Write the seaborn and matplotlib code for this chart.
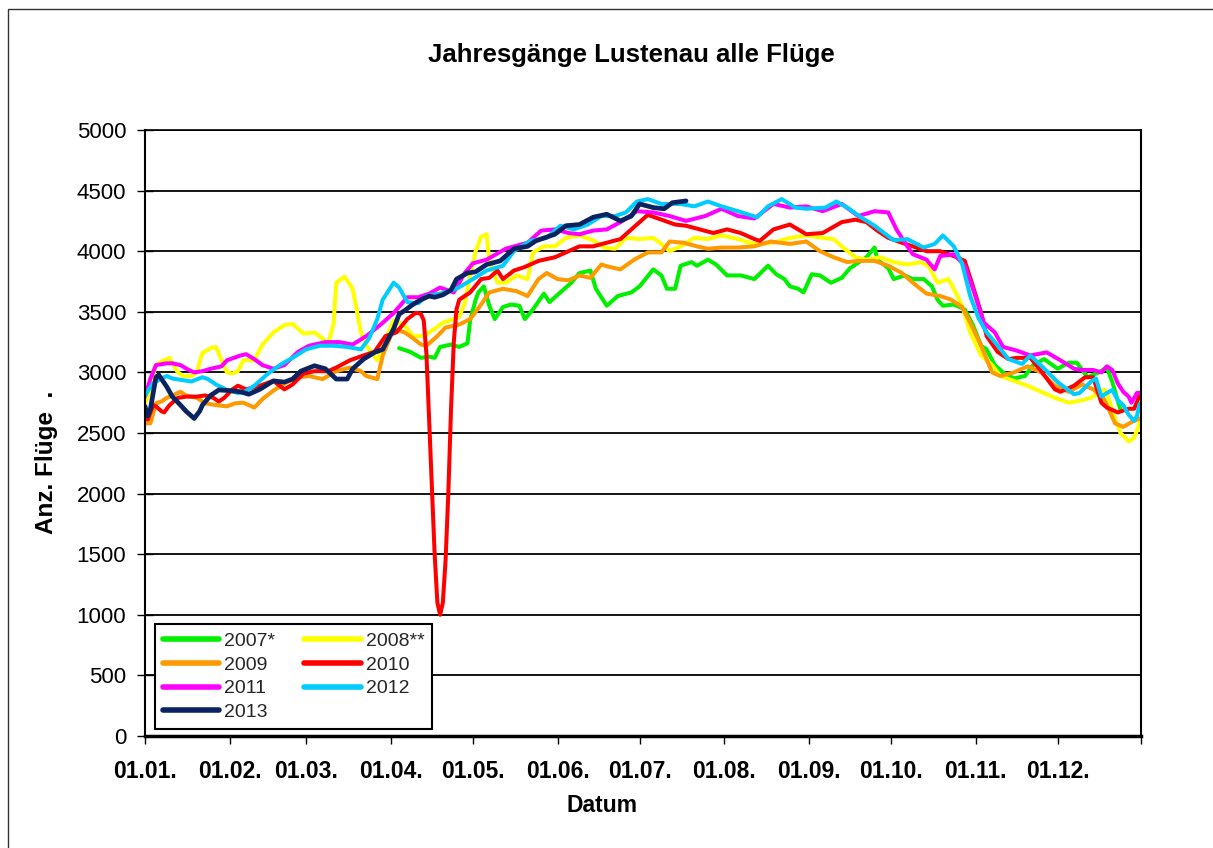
import matplotlib
matplotlib.use("Agg")
import matplotlib.pyplot as plt
import seaborn as sns
import pandas as pd
from matplotlib.patches import Rectangle

# ---------------- data ----------------
title = "Jahresgänge Lustenau alle Flüge"
x_label = "Datum"
y_label = "Anz. Flüge  ."
month_labels = ["01.01.", "01.02.", "01.03.", "01.04.", "01.05.", "01.06.",
                "01.07.", "01.08.", "01.09.", "01.10.", "01.11.", "01.12."]
month_days = [0, 31, 59, 90, 120, 151, 181, 212, 243, 273, 304, 334]
y_ticks = [0, 500, 1000, 1500, 2000, 2500, 3000, 3500, 4000, 4500, 5000]

series_labels = ["2007*", "2008**", "2009", "2010", "2011", "2012", "2013"]
series_colors = ["#00F000", "#FFFF00", "#FF9900", "#FF0000", "#FF00FF", "#00CCFF", "#0B2461"]

d2007 = [93, 97, 101, 104, 106, 108, 112, 115, 118, 119, 121, 122, 124, 126, 128, 131, 134, 137, 139,
         142, 146, 148, 152, 156, 159, 163, 165, 169, 173, 178, 181, 186, 189, 191, 194, 196, 200,
         202, 206, 209, 213, 218, 223, 228, 231, 234, 236, 239, 241, 244, 247, 251, 255, 258, 262,
         264, 267, 268, 272, 274, 278, 281, 285, 288, 290, 292, 296, 300, 303, 306, 308, 311, 314,
         318, 322, 325, 329, 334, 338, 341, 345, 349, 352, 354, 357]
v2007 = [3200, 3170, 3120, 3130, 3120, 3210, 3230, 3210, 3240, 3430, 3600, 3660, 3710, 3550, 3440,
         3540, 3560, 3550, 3440, 3520, 3650, 3580, 3660, 3740, 3820, 3840, 3690, 3550, 3630, 3660,
         3710, 3850, 3800, 3690, 3690, 3880, 3910, 3880, 3930, 3890, 3800, 3800, 3770, 3880, 3810,
         3770, 3710, 3690, 3660, 3810, 3800, 3740, 3780, 3860, 3920, 3950, 4030, 3930, 3860, 3770,
         3800, 3770, 3770, 3710, 3600, 3550, 3560, 3520, 3390, 3220, 3190, 3060, 3000, 2950, 2970,
         3060, 3110, 3030, 3080, 3080, 2960, 3000, 3040, 2920, 2690]

d2008 = [0, 1, 4, 6, 9, 10, 12, 14, 17, 19, 21, 24, 26, 28, 30, 32, 34, 36, 40, 43, 47, 51, 54, 58,
         62, 65, 67, 69, 70, 73, 76, 79, 81, 85, 88, 91, 95, 98, 102, 106, 109, 113, 115, 117, 119,
         121, 123, 125, 126, 129, 132, 136, 140, 142, 146, 150, 154, 159, 164, 168, 172, 176, 181,
         186, 189, 192, 196, 201, 206, 211, 217, 223, 230, 236, 242, 248, 252, 256, 260, 264, 269,
         274, 279, 284, 287, 290, 294, 296, 299, 302, 306, 310, 313, 318, 323, 328, 333, 338, 343,
         346, 349, 351, 352, 355, 357, 360, 362, 363, 364]
v2008 = [2745, 2800, 3060, 3090, 3120, 3080, 3000, 2970, 2970, 3000, 3160, 3200, 3210, 3100, 3000,
         2990, 3010, 3100, 3100, 3230, 3330, 3390, 3400, 3320, 3330, 3280, 3230, 3400, 3740, 3790,
         3690, 3330, 3220, 3100, 3270, 3430, 3390, 3300, 3300, 3360, 3410, 3440, 3460, 3570, 3800,
         4000, 4120, 4140, 3920, 3740, 3740, 3800, 3770, 3990, 4040, 4040, 4110, 4130, 4090, 4030,
         4020, 4110, 4100, 4110, 4060, 4000, 4040, 4110, 4100, 4130, 4100, 4060, 4070, 4110, 4130,
         4110, 4100, 4020, 3950, 3930, 3950, 3910, 3890, 3910, 3870, 3740, 3770, 3690, 3550, 3330,
         3140, 3060, 2970, 2930, 2890, 2840, 2790, 2750, 2770, 2790, 2830, 2860, 2830, 2620, 2500,
         2430, 2460, 2520, 2590]

d2009 = [0, 2, 4, 6, 8, 10, 13, 15, 19, 22, 26, 30, 33, 36, 40, 43, 47, 52, 56, 60, 65, 70, 75, 79,
         81, 85, 87, 91, 95, 97, 101, 103, 107, 110, 115, 119, 123, 126, 131, 136, 140, 144, 147,
         151, 155, 159, 163, 167, 170, 174, 179, 184, 189, 192, 197, 202, 206, 211, 217, 223, 229,
         236, 242, 247, 252, 257, 261, 267, 272, 277, 281, 286, 291, 295, 299, 302, 306, 310, 313,
         318, 323, 328, 333, 338, 343, 347, 351, 355, 358, 361, 364]
v2009 = [2580, 2580, 2745, 2760, 2790, 2810, 2840, 2810, 2790, 2745, 2730, 2720, 2745, 2750, 2710,
         2780, 2850, 2920, 2960, 2970, 2945, 3010, 3040, 3010, 2970, 2945, 3140, 3360, 3330, 3300,
         3230, 3220, 3300, 3370, 3395, 3440, 3560, 3660, 3690, 3670, 3630, 3770, 3820, 3770, 3760,
         3800, 3780, 3890, 3870, 3850, 3930, 3990, 3990, 4080, 4070, 4040, 4020, 4030, 4030, 4040,
         4080, 4060, 4080, 4000, 3950, 3910, 3920, 3920, 3880, 3820, 3740, 3650, 3630, 3600, 3540,
         3410, 3220, 3000, 2970, 3000, 3050, 3000, 2890, 2840, 2900, 2860, 2780, 2580, 2550, 2590,
         2620]

d2010 = [0, 1, 3, 4, 6, 7, 9, 12, 15, 19, 22, 25, 27, 29, 32, 34, 37, 42, 47, 51, 54, 58, 62, 67,
         70, 75, 80, 84, 88, 92, 96, 99, 100, 101, 102, 103, 104, 105, 106, 107, 108, 109, 110, 111,
         112, 113, 114, 115, 119, 123, 126, 129, 131, 135, 139, 144, 150, 155, 159, 164, 169, 174,
         179, 184, 189, 194, 198, 203, 208, 213, 218, 223, 225, 230, 236, 242, 248, 255, 260, 264,
         268, 272, 277, 281, 286, 291, 296, 300, 303, 306, 308, 312, 316, 319, 324, 328, 333, 335,
         340, 344, 347, 350, 352, 356, 360, 362, 364]
v2010 = [2630, 2610, 2730, 2720, 2680, 2670, 2730, 2790, 2800, 2800, 2810, 2790, 2760, 2790, 2860,
         2890, 2860, 2890, 2930, 2860, 2900, 2990, 3010, 3010, 3040, 3100, 3140, 3170, 3300, 3330,
         3440, 3490, 3490, 3480, 3430, 3150, 2600, 2050, 1500, 1100, 1000, 1100, 1450, 2000, 2700,
         3250, 3520, 3600, 3660, 3770, 3780, 3840, 3770, 3840, 3870, 3920, 3950, 4000, 4040, 4040,
         4070, 4100, 4200, 4300, 4260, 4220, 4210, 4180, 4150, 4180, 4150, 4100, 4085, 4180, 4220,
         4140, 4150, 4240, 4260, 4240, 4170, 4110, 4070, 4040, 4000, 4000, 3960, 3920, 3710, 3490,
         3300, 3170, 3110, 3120, 3120, 3010, 2860, 2840, 2890, 2960, 2960, 2750, 2710, 2670, 2700,
         2700, 2810]

d2011 = [0, 2, 4, 8, 10, 13, 16, 18, 21, 24, 28, 30, 35, 37, 40, 43, 47, 51, 56, 60, 66, 71, 76,
         81, 86, 91, 96, 100, 104, 108, 113, 117, 120, 125, 132, 140, 145, 150, 155, 159, 164, 169,
         174, 180, 186, 192, 198, 205, 211, 217, 223, 230, 236, 242, 248, 255, 261, 267, 272, 275,
         279, 281, 286, 289, 291, 296, 300, 303, 307, 311, 314, 319, 324, 330, 335, 340, 343, 347,
         350, 352, 354, 356, 358, 360, 361, 363, 364]
v2011 = [2800, 2950, 3060, 3075, 3075, 3060, 3020, 3000, 3010, 3030, 3050, 3100, 3140, 3150, 3110,
         3060, 3030, 3060, 3170, 3220, 3250, 3250, 3230, 3300, 3390, 3490, 3620, 3620, 3650, 3700,
         3660, 3820, 3900, 3930, 4020, 4070, 4170, 4180, 4150, 4140, 4170, 4180, 4240, 4330, 4320,
         4290, 4250, 4290, 4350, 4290, 4270, 4390, 4360, 4370, 4330, 4390, 4290, 4330, 4320, 4180,
         4040, 3975, 3930, 3850, 3960, 3975, 3880, 3690, 3410, 3330, 3210, 3180, 3140, 3165, 3100,
         3030, 3020, 3020, 3000, 3050, 3020, 2910, 2840, 2800, 2750, 2830, 2830]

d2012 = [0, 2, 3, 6, 8, 10, 14, 17, 21, 23, 26, 30, 34, 36, 40, 45, 50, 54, 59, 64, 69, 74, 79, 82,
         85, 87, 91, 93, 96, 100, 103, 108, 114, 120, 125, 131, 135, 141, 147, 152, 157, 162, 167,
         172, 176, 180, 184, 189, 196, 201, 206, 211, 217, 224, 228, 233, 238, 242, 249, 253, 257,
         262, 267, 274, 279, 285, 289, 292, 296, 299, 302, 305, 308, 311, 316, 321, 324, 328, 334,
         340, 342, 346, 348, 350, 352, 354, 356, 358, 360, 362, 363, 364]
v2012 = [2810, 2880, 2910, 2950, 2970, 2950, 2935, 2925, 2960, 2945, 2900, 2855, 2830, 2835, 2890,
         2990, 3070, 3120, 3190, 3220, 3220, 3210, 3190, 3280, 3440, 3600, 3740, 3700, 3580, 3570,
         3630, 3650, 3690, 3770, 3840, 3880, 4000, 4085, 4110, 4210, 4180, 4220, 4290, 4290, 4320,
         4410, 4430, 4390, 4390, 4370, 4410, 4370, 4330, 4280, 4370, 4430, 4360, 4350, 4360, 4410,
         4360, 4280, 4210, 4090, 4100, 4030, 4060, 4130, 4040, 3900, 3630, 3450, 3330, 3250, 3110,
         3070, 3140, 3055, 2920, 2820, 2830, 2920, 2950, 2800, 2830, 2855, 2770, 2730, 2650, 2600,
         2640, 2740]

d2013 = [0, 1, 2, 4, 5, 8, 10, 13, 15, 18, 20, 21, 24, 27, 31, 35, 38, 42, 47, 51, 54, 57, 62, 66,
         70, 74, 76, 80, 84, 87, 91, 93, 95, 98, 101, 104, 106, 109, 112, 114, 118, 121, 125, 130,
         135, 140, 143, 150, 154, 159, 164, 169, 174, 178, 181, 186, 190, 193, 198]
v2013 = [2720, 2640, 2700, 2960, 2980, 2880, 2800, 2730, 2680, 2620, 2680, 2730, 2810, 2855, 2850,
         2840, 2820, 2860, 2930, 2920, 2945, 3010, 3055, 3030, 2945, 2945, 3030, 3110, 3165, 3190,
         3360, 3480, 3510, 3560, 3600, 3630, 3620, 3640, 3680, 3770, 3820, 3830, 3890, 3920, 4020,
         4040, 4085, 4140, 4210, 4220, 4280, 4305, 4250, 4290, 4390, 4360, 4350, 4400, 4415]

series_days = [d2007, d2008, d2009, d2010, d2011, d2012, d2013]
series_vals = [v2007, v2008, v2009, v2010, v2011, v2012, v2013]

# ---------------- style ----------------
sns.set_theme(style="white")
plt.rcParams['font.family'] = ['Liberation Sans', 'DejaVu Sans']

W, H = 1213, 848
fig = plt.figure(figsize=(W / 100, H / 100), dpi=100)
fig.patch.set_facecolor("white")
ax = fig.add_axes([145 / W, 1 - 736 / H, (1141 - 145) / W, (736 - 130) / H])
ax.set_facecolor("white")

handles = []
for lab, col, dd, vv in zip(series_labels, series_colors, series_days, series_vals):
    df = pd.DataFrame({"Tag": dd, "Flüge": vv})
    lw = 3.4 if lab == "2013" else 2.9
    sns.lineplot(data=df, x="Tag", y="Flüge", ax=ax, color=col, linewidth=lw,
                 estimator=None, label=lab, legend=False, solid_joinstyle="round")
    handles.append(ax.lines[-1])

ax.set_xlim(0, 364.5)
ax.set_ylim(0, 5000)
ax.set_yticks(y_ticks)
ax.set_yticklabels([str(t) for t in y_ticks], fontsize=16)
ax.set_xticks(month_days)
ax.set_xticklabels(month_labels, fontsize=16.5, fontweight="bold")
ax.set_xticks([364.5], minor=True)
ax.tick_params(axis="y", which="major", direction="inout", length=11, width=1,
               color="black", pad=8, labelcolor="black", left=True)
ax.tick_params(axis="x", which="both", direction="out", length=6, width=1,
               color="black", pad=11, labelcolor="black", bottom=True)

ax.yaxis.grid(True, color="black", linewidth=1.3)
ax.xaxis.grid(False)
ax.set_axisbelow(True)

for side, lw in [("left", 1.5), ("bottom", 2.5), ("top", 1.2), ("right", 1.5)]:
    ax.spines[side].set_visible(True)
    ax.spines[side].set_color("black")
    ax.spines[side].set_linewidth(lw)

ax.set_xlabel(x_label, fontsize=16.5, fontweight="bold", color="black")
ax.xaxis.set_label_coords((602 - 145) / 996, -(805 - 736) / 606)
ax.xaxis.label.set_va("center")
ax.set_ylabel(y_label, fontsize=17.5, fontweight="bold", color="black")
ax.yaxis.set_label_coords((47 - 145) / 996, 1 - (462 - 130) / 606)
ax.yaxis.label.set_va("center")

fig.text(631 / W, 1 - 55 / H, title, ha="center", va="center",
         fontsize=18.5, fontweight="bold", color="black")

# legend: row-major order as in the reference (2 columns)
order = [0, 2, 4, 6, 1, 3, 5]
leg = ax.legend([handles[i] for i in order], [series_labels[i] for i in order],
                ncol=2, loc="lower left", bbox_to_anchor=((155 - 145) / 996, 1 - (729 - 130) / 606),
                frameon=True, fancybox=False, edgecolor="black", framealpha=1,
                borderaxespad=0, fontsize=14, handlelength=2.9, handletextpad=0.25,
                columnspacing=1.5, labelspacing=0.32, borderpad=0.4)
leg.get_frame().set_linewidth(1.5)
for lh in leg.get_lines():
    lh.set_linewidth(4.0)

# outer chart-area border (clipped at right and bottom as in reference)
fig.patches.append(Rectangle((8 / W, -0.1), 1.2, 1 - 9 / H + 0.1, transform=fig.transFigure,
                             fill=False, edgecolor="#333333", linewidth=1.0))

fig.savefig("out.png", dpi=100, facecolor="white")
